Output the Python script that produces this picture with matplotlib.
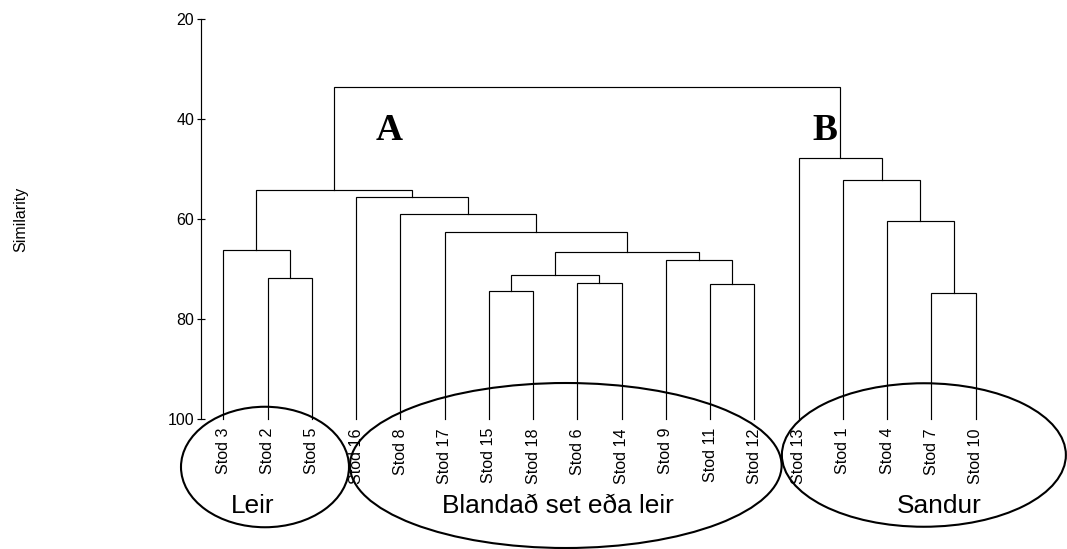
import matplotlib
matplotlib.use("Agg")
import matplotlib.pyplot as plt
from matplotlib.patches import Ellipse

plt.rcParams["font.family"] = ["Liberation Sans", "DejaVu Sans"]

# Leaf order along the x axis
leaf_labels = ["Stod 3", "Stod 2", "Stod 5", "Stod 16", "Stod 8", "Stod 17",
               "Stod 15", "Stod 18", "Stod 6", "Stod 14", "Stod 9", "Stod 11",
               "Stod 12", "Stod 13", "Stod 1", "Stod 4", "Stod 7", "Stod 10"]

# Agglomeration steps: children are leaf names or earlier step numbers ("m<k>")
merge_left = ["Stod 2", "Stod 3", "Stod 15", "Stod 6", "m2", "Stod 11", "Stod 9",
              "m4", "Stod 17", "Stod 8", "Stod 16", "m1", "Stod 7", "Stod 4",
              "Stod 1", "Stod 13", "m11"]
merge_right = ["Stod 5", "m0", "Stod 18", "Stod 14", "m3", "Stod 12", "m5",
               "m6", "m7", "m8", "m9", "m10", "Stod 10", "m12", "m13", "m14",
               "m15"]
merge_similarity = [71.7, 66.1, 74.4, 72.7, 71.1, 73.0, 68.1, 66.5, 62.5,
                    58.9, 55.5, 54.2, 74.7, 60.3, 52.2, 47.7, 33.5]

# Sediment groups
group_names = ["Leir", "Blandað set eða leir", "Sandur"]
cluster_names = ["A", "B"]

yticks = [20, 40, 60, 80, 100]

W, H = 1067, 549
fig = plt.figure(figsize=(W / 100, H / 100), dpi=100)
fig.patch.set_facecolor("white")

ax = fig.add_axes([201 / W, (H - 419) / H, (1000 - 201) / W, 400 / H])
ax.set_xlim(-0.504, 17.55)
ax.set_ylim(100, 20)

# Resolve node positions and draw the U-shaped links
pos = {name: (i, 100.0) for i, name in enumerate(leaf_labels)}
for k, (l, r, s) in enumerate(zip(merge_left, merge_right, merge_similarity)):
    xl, yl = pos[l]
    xr, yr = pos[r]
    ax.plot([xl, xl, xr, xr], [yl, s, s, yr], color="black", lw=0.85,
            solid_joinstyle="miter", clip_on=False)
    pos[f"m{k}"] = ((xl + xr) / 2, s)

# Leaf labels
for i, name in enumerate(leaf_labels):
    ax.text(i, 101.8, name, rotation=90, ha="center", va="top",
            fontsize=11.6, clip_on=False)

# Axis styling
for side in ("top", "right", "bottom"):
    ax.spines[side].set_visible(False)
ax.spines["left"].set_linewidth(0.85)
ax.set_xticks([])
ax.set_yticks(yticks)
ax.tick_params(axis="y", direction="inout", length=6, width=0.85,
               labelsize=11.5, pad=2)
ax.patch.set_alpha(0)

fig.text(21 / W, 1 - 219 / H, "Similarity", rotation=90, ha="center",
         va="center", fontsize=11.5)

# Cluster letters
ax.text(3.744, 44.2, cluster_names[0], ha="center", va="baseline",
        family="Liberation Serif", fontweight="bold", fontsize=27)
ax.text(13.6, 44.2, cluster_names[1], ha="center", va="baseline",
        family="Liberation Serif", fontweight="bold", fontsize=27)

# Group ellipses and names
ellipses = [((0.942, 109.6), 3.796, 24.1),
            ((7.738, 109.3), 9.754, 33.0),
            ((15.83, 107.2), 6.417, 28.7)]
for (c, w, h) in ellipses:
    ax.add_patch(Ellipse(c, w, h, fill=False, edgecolor="black", lw=1.5,
                         clip_on=False))

label_x = [0.664, 7.55, 16.18]
for name, x in zip(group_names, label_x):
    ax.text(x, 118.72, name, ha="center", va="baseline", fontsize=18.9,
            clip_on=False)

fig.savefig("out.png", dpi=100, facecolor="white")
